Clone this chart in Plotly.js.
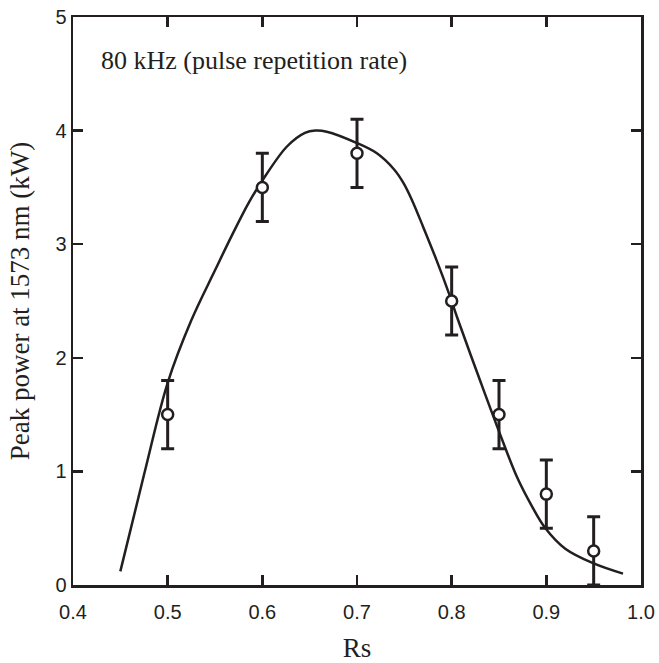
<!DOCTYPE html>
<html>
<head>
<meta charset="utf-8">
<script src="https://cdn.plot.ly/plotly-3.0.1.min.js"></script>
<style>html,body{margin:0;padding:0;background:#fff;}#chart{width:659px;height:663px;}</style>
</head>
<body>
<div id="chart"></div>
<script>
// Measured data (Rs vs peak power, kW)
var dataRs = [0.5, 0.6, 0.7, 0.8, 0.85, 0.9, 0.95];
var dataPower = [1.5, 3.5, 3.8, 2.5, 1.5, 0.8, 0.3];
var dataErr = [0.3, 0.3, 0.3, 0.3, 0.3, 0.3, 0.3];

// Model curve
var curveRs = [0.45, 0.475, 0.50, 0.525, 0.55, 0.568, 0.586, 0.60, 0.626, 0.645, 0.656, 0.668, 0.70, 0.721, 0.739, 0.749, 0.758, 0.77, 0.784, 0.797, 0.806, 0.83, 0.851, 0.869, 0.885, 0.899, 0.92, 0.95, 0.981];
var curvePower = [0.12, 0.97, 1.78, 2.33, 2.77, 3.08, 3.37, 3.56, 3.86, 3.98, 4.00, 3.99, 3.89, 3.80, 3.66, 3.54, 3.39, 3.15, 2.86, 2.57, 2.35, 1.80, 1.33, 0.95, 0.69, 0.50, 0.32, 0.19, 0.10];

var xTicks = [0.4, 0.5, 0.6, 0.7, 0.8, 0.9, 1.0];
var yTicks = [0, 1, 2, 3, 4, 5];

var ink = '#231f20';

var traces = [
  {
    x: curveRs, y: curvePower, type: 'scatter', mode: 'lines',
    line: {color: ink, width: 2.5, shape: 'spline', smoothing: 1.0},
    hoverinfo: 'skip', showlegend: false
  },
  {
    x: dataRs, y: dataPower, type: 'scatter', mode: 'markers',
    marker: {symbol: 'circle', size: 11, color: '#ffffff', line: {color: ink, width: 2.5}},
    error_y: {type: 'data', array: dataErr, visible: true, color: ink, thickness: 3, width: 6.5},
    showlegend: false
  }
];

var layout = {
  width: 659, height: 663,
  margin: {l: 73, r: 18, t: 17, b: 78},
  paper_bgcolor: '#ffffff', plot_bgcolor: '#ffffff',
  showlegend: false,
  xaxis: {
    range: [0.4, 1.0], tickvals: xTicks, ticktext: xTicks.map(function(v){return v.toFixed(1);}),
    ticks: 'inside', ticklen: 10, tickwidth: 2.5, tickcolor: ink,
    showline: true, linewidth: 2.5, linecolor: ink, mirror: 'ticks',
    showgrid: false, zeroline: false, ticklabelstandoff: 7,
    tickfont: {family: 'Liberation Sans, Arial, sans-serif', size: 20, color: ink},
    title: {text: 'Rs', font: {family: 'Liberation Serif, Times New Roman, serif', size: 27, color: ink}, standoff: 20}
  },
  yaxis: {
    range: [0, 5], tickvals: yTicks,
    ticks: 'inside', ticklen: 10, tickwidth: 2.5, tickcolor: ink,
    showline: true, linewidth: 2.5, linecolor: ink, mirror: 'ticks',
    showgrid: false, zeroline: false,
    tickfont: {family: 'Liberation Sans, Arial, sans-serif', size: 20, color: ink},
    title: {text: 'Peak power at 1573 nm (kW)', font: {family: 'Liberation Serif, Times New Roman, serif', size: 27, color: ink}, standoff: 18}
  },
  annotations: [{
    x: 0.427, y: 4.62, xref: 'x', yref: 'y', xanchor: 'left', yanchor: 'middle',
    text: '80 kHz (pulse repetition rate)', showarrow: false,
    font: {family: 'Liberation Serif, Times New Roman, serif', size: 26, color: ink}
  }]
};

Plotly.newPlot('chart', traces, layout, {displayModeBar: false, staticPlot: true});
</script>
</body>
</html>
